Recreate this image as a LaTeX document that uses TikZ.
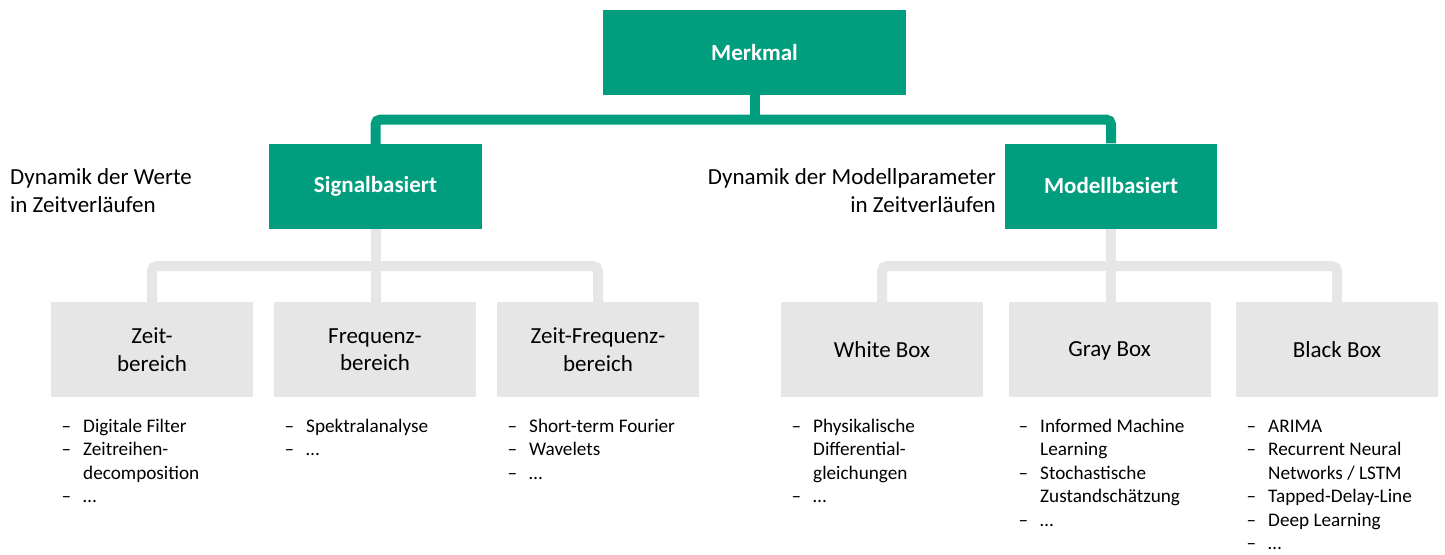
\documentclass[tikz,border=0pt]{standalone}
\usepackage{fontspec}
\setmainfont{Carlito}
\definecolor{tgreen}{RGB}{0,158,126}
\definecolor{lgray}{RGB}{230,230,230}
\newcommand\dsh{\leavevmode\llap{–\hspace{12pt}}}
\begin{document}
\begin{tikzpicture}[x=1pt,y=-1pt,
  gbox/.style={fill=tgreen, text=white, font=\bfseries\fontsize{23}{27.6}\selectfont, inner sep=0pt, minimum height=85pt},
  lbox/.style={fill=lgray, text=black, font=\fontsize{23}{27.6}\selectfont, align=center, inner sep=0pt, minimum width=202pt, minimum height=95pt},
  gline/.style={draw=tgreen, line width=10pt, rounded corners=5pt},
  lline/.style={draw=lgray, line width=10pt, rounded corners=5pt},
  lst/.style={anchor=base west, inner sep=0pt, font=\fontsize{19.2}{23.5}\selectfont},
  note/.style={inner sep=0pt, font=\fontsize{23}{28}\selectfont}]
\useasboundingbox (0,0) rectangle (1445,554);

% top level
\node[gbox, minimum width=303pt] (mk) at (754.5,52.5) {Merkmal};
\node[gbox, minimum width=213pt] (sig) at (375.5,186.5) {Signalbasiert};
\node[gbox, minimum width=212pt] (mod) at (1111,186) {Modellbasiert};

% second level
\node[lbox] (z1) at (152,349.5) {Zeit-\\bereich};
\node[lbox] (z2) at (375,349.5) {Frequenz-\\bereich};
\node[lbox] (z3) at (598,349.5) {Zeit-Frequenz-\\bereich};
\node[lbox] (wb) at (882,349.5) {White Box};
\node[lbox] (gb) at (1109.5,349.5) {\raisebox{0pt}[\height][0pt]{Gray Box}};
\node[lbox] (bb) at (1337,349.5) {Black Box};

% connectors
\coordinate (gbar) at (755,119.5);
\draw[gline] (sig.north) |- (gbar) -| (mod.north);
\draw[gline] (mk.south) -- (mk.south |- gbar);

\coordinate (lbar) at (376,266);
\draw[lline] (z1.north) |- (lbar) -| (z3.north);
\draw[lline] (sig.south) -- (sig.south |- z2.north);

\coordinate (rbar) at (1111,266);
\draw[lline] (wb.north) |- (rbar) -| (bb.north);
\draw[lline] (mod.south) -- (mod.south |- gb.north);

% side notes
\node[note, anchor=base west] (nl) at (10,184) {\parbox[t]{300pt}{\raggedright Dynamik der Werte\\in Zeitverläufen}};
\node[note, anchor=base east] (nr) at (996,184) {\parbox[t]{320pt}{\raggedleft Dynamik der Modellparameter\hspace*{5pt}\\in Zeitverläufen}};

% lists
\node[lst] (l1) at (83,432) {\parbox[t]{180pt}{\raggedright\dsh Digitale Filter\\\dsh Zeitreihen-\\decomposition\\\dsh …}};
\node[lst] (l2) at (306,432) {\parbox[t]{180pt}{\raggedright\dsh Spektralanalyse\\\dsh …}};
\node[lst] (l3) at (529,432) {\parbox[t]{180pt}{\raggedright\dsh Short-term Fourier\\\dsh Wavelets\\\dsh …}};
\node[lst] (l4) at (813,432) {\parbox[t]{180pt}{\raggedright\dsh Physikalische\\Differential-\\gleichungen\\\dsh …}};
\node[lst] (l5) at (1040,432) {\parbox[t]{180pt}{\raggedright\dsh Informed Machine\\Learning\\\dsh Stochastische\\Zustandschätzung\\\dsh …}};
\node[lst] (l6) at (1268,432) {\parbox[t]{180pt}{\raggedright\dsh ARIMA\\\dsh Recurrent Neural\\Networks / LSTM\\\dsh Tapped-Delay-Line\\\dsh Deep Learning\\\dsh …}};
\end{tikzpicture}
\end{document}
